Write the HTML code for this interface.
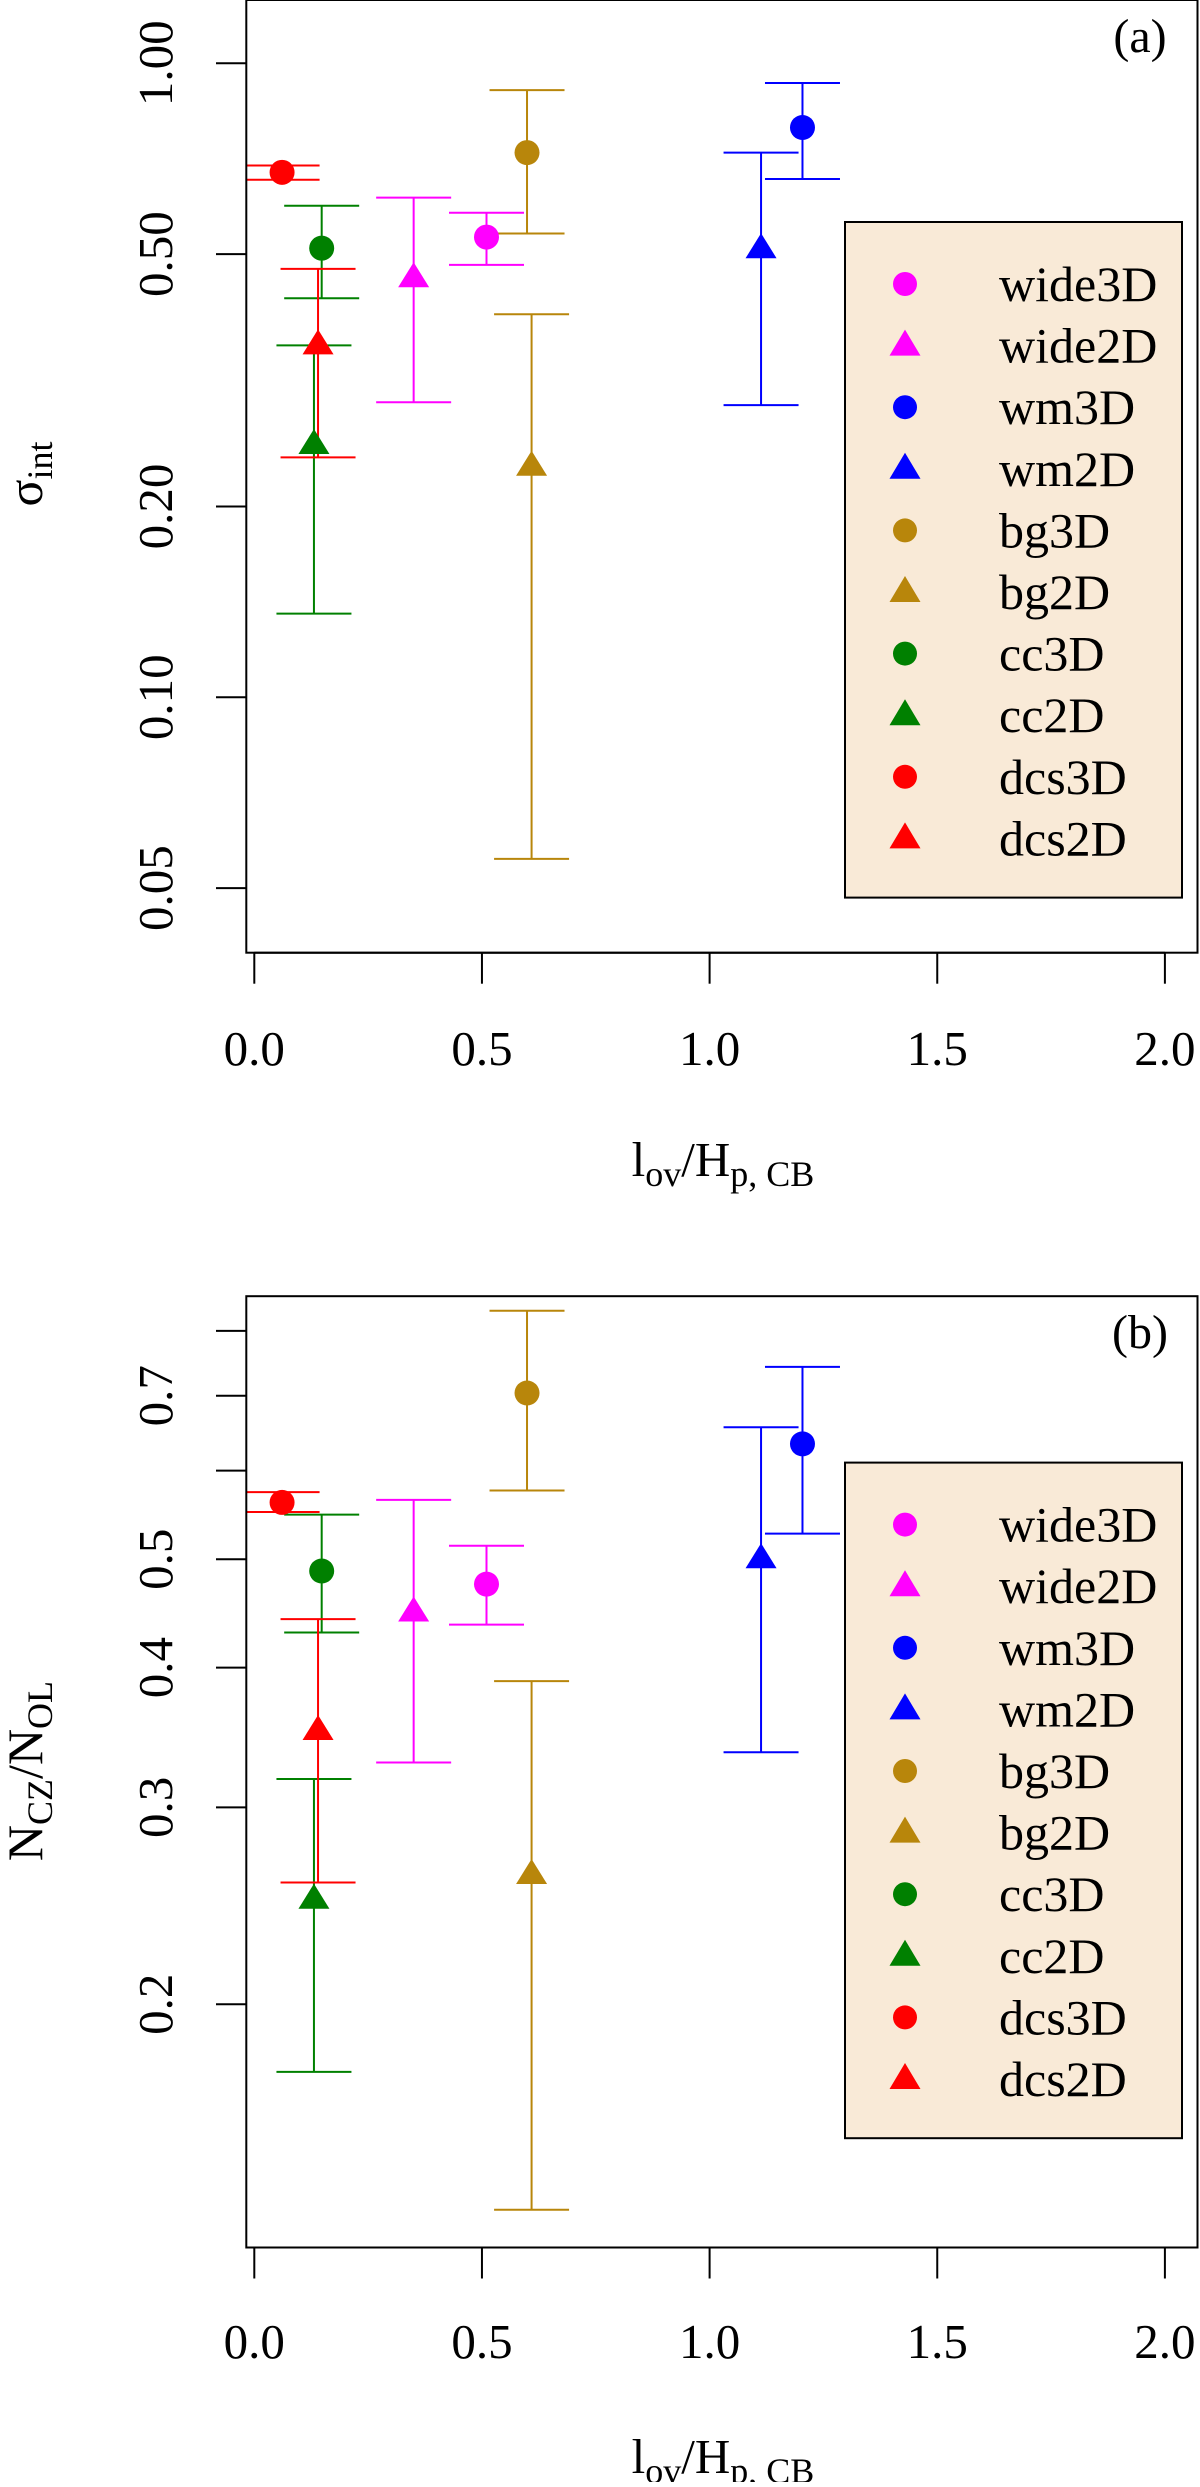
<!DOCTYPE html>
<html><head><meta charset="utf-8"><style>
html,body{margin:0;padding:0;background:#fff;}
svg, svg text, svg tspan{font-family:"Liberation Serif","Times New Roman",Times,serif !important;}
</style></head><body>
<svg id="chart" width="1200" height="2482" viewBox="0 0 1200 2482" xmlns="http://www.w3.org/2000/svg" font-family="Liberation Serif, Times New Roman, serif"></svg>
<script>
const series = ["wide3D","wide2D","wm3D","wm2D","bg3D","bg2D","cc3D","cc2D","dcs3D","dcs2D"];
const colors = ["#ff00ff","#ff00ff","#0000ff","#0000ff","#b8860b","#b8860b","#008000","#008000","#ff0000","#ff0000"];
const shapes = ["circle","triangle","circle","triangle","circle","triangle","circle","triangle","circle","triangle"];
const xVals = [0.510,0.350,1.204,1.113,0.599,0.609,0.148,0.131,0.061,0.140];
// panel a: sigma_int
const aVals = [0.532,0.458,0.792,0.509,0.723,0.231,0.511,0.250,0.673,0.359];
const aUp   = [0.581,0.614,0.931,0.723,0.907,0.402,0.596,0.359,0.690,0.474];
const aLow  = [0.481,0.292,0.657,0.289,0.539,0.0556,0.426,0.1355,0.655,0.239];
// panel b: N_CZ/N_OL
const bVals = [0.475,0.448,0.634,0.500,0.704,0.261,0.488,0.248,0.562,0.351];
const bUp   = [0.514,0.565,0.743,0.656,0.834,0.389,0.548,0.318,0.574,0.442];
const bLow  = [0.437,0.329,0.527,0.336,0.576,0.131,0.430,0.174,0.551,0.257];
const xTicks = [0,0.5,1,1.5,2];
const xTickLabels = ["0.0","0.5","1.0","1.5","2.0"];
const aTicks = [1.0,0.5,0.2,0.1,0.05];
const aTickLabels = ["1.00","0.50","0.20","0.10","0.05"];
const bTicks = [0.2,0.3,0.4,0.5,0.6,0.7,0.8];
const bTickLabels = ["0.2","0.3","0.4","0.5","","0.7",""];

const NS="http://www.w3.org/2000/svg";
const svg=document.getElementById('chart');
const FF='Liberation Serif, Times New Roman, serif';
function mk(tag,attrs,parent){const e=document.createElementNS(NS,tag);for(const k in attrs)e.setAttribute(k,attrs[k]);if(tag==='text')e.setAttribute('font-family',FF);(parent||svg).appendChild(e);return e;}
const X0=254.3, XS=455.3, L=246.3, R=1197.5;
function xs(v){return X0+v*XS;}

function panel(p){
  const g=mk('g',{});
  
  
  const ys=v=>p.yRef - Math.log10(v/p.vRef)*p.dec;
  for(let i=0;i<series.length;i++){
    const x=xs(xVals[i]);
    const eb=mk('g',{stroke:colors[i],'stroke-width':2,fill:'none'},g);
    
    
    const yu=ys(p.up[i]), yl=ys(p.low[i]);
    mk('line',{x1:x,y1:yu,x2:x,y2:yl},eb);
    mk('line',{x1:Math.max(L,x-37.5),y1:yu,x2:x+37.5,y2:yu},eb);
    mk('line',{x1:Math.max(L,x-37.5),y1:yl,x2:x+37.5,y2:yl},eb);
  }
  for(let i=0;i<series.length;i++){
    const x=xs(xVals[i]), y=ys(p.vals[i]);
    let m;
    if(shapes[i]==='circle') m=mk('circle',{cx:x,cy:y,r:12.5,fill:colors[i]},g);
    else m=mk('polygon',{points:`${x},${y-16} ${x-15.5},${y+9} ${x+15.5},${y+9}`,fill:colors[i]},g);
    
    
  }
  const fr=mk('rect',{x:L,y:p.top,width:R-L,height:p.bot-p.top,fill:'none',stroke:'#000','stroke-width':2},g);
  
  
  const xa=mk('g',{},g);
  
  
  mk('line',{x1:xs(0),y1:p.bot,x2:xs(2),y2:p.bot,stroke:'#000','stroke-width':2},xa);
  xTicks.forEach((t,i)=>{
    mk('line',{x1:xs(t),y1:p.bot,x2:xs(t),y2:p.bot+31,stroke:'#000','stroke-width':2},xa);
    const tx=mk('text',{x:xs(t),y:p.xlab+17,'font-size':49,'text-anchor':'middle'},xa);
    tx.textContent=xTickLabels[i];
    
    
  });
  const xt=mk('text',{x:723,y:p.xtitle+14,'font-size':49,'text-anchor':'middle'},g);
  xt.innerHTML='l<tspan font-size="36" dy="10">ov</tspan><tspan dy="-10">/H</tspan><tspan font-size="36" dy="10">p, CB</tspan>';
  
  
  const ya=mk('g',{},g);
  
  
  p.ticks.forEach((t,i)=>{
    const y=ys(t);
    mk('line',{x1:216,y1:y,x2:L,y2:y,stroke:'#000','stroke-width':2},ya);
    if(p.labels[i]){
      const tx=mk('text',{x:0,y:0,'font-size':49,'text-anchor':'middle',transform:`translate(172,${y}) rotate(-90)`},ya);
      tx.textContent=p.labels[i];
      
      
    }
  });
  const yt=mk('text',{x:0,y:0,'font-size':50,'text-anchor':'middle',transform:`translate(42,${p.ytitleY}) rotate(-90)`},g);
  yt.innerHTML=p.ytitle;
  
  
  const pl=mk('text',{x:1140,y:p.top+52,'font-size':48,'text-anchor':'middle'},g);
  pl.textContent='('+p.id+')';
  
  
  const lg=mk('g',{},g);
  
  
  mk('rect',{x:845,y:p.legTop,width:337,height:675.6,fill:'#f9ead7',stroke:'#000','stroke-width':2},lg);
  series.forEach((s,i)=>{
    const y=p.legTop+62+i*61.6;
    const en=mk('g',{},lg);
    
    
    if(shapes[i]==='circle') mk('circle',{cx:905,cy:y,r:12,fill:colors[i]},en);
    else mk('polygon',{points:`905,${y-16} 889.5,${y+10} 920.5,${y+10}`,fill:colors[i]},en);
    const tx=mk('text',{x:999,y:y+17,'font-size':50},en);
    tx.textContent=s;
  });
}
panel({id:'a',top:0,bot:952.7,yRef:63.3,vRef:1.0,dec:634,vals:aVals,up:aUp,low:aLow,
  ticks:aTicks,labels:aTickLabels,xlab:1048,xtitle:1162,ytitleY:474,legTop:222,
  ytitle:'σ<tspan font-size="36" dy="10">int</tspan>'});
panel({id:'b',top:1296.2,bot:2247.5,yRef:1559.2,vRef:0.5,dec:1118.4,vals:bVals,up:bUp,low:bLow,
  ticks:bTicks,labels:bTickLabels,xlab:2341,xtitle:2459,ytitleY:1771,legTop:1462.6,
  ytitle:'N<tspan font-size="36" dy="10">CZ</tspan><tspan dy="-10">/N</tspan><tspan font-size="36" dy="10">OL</tspan>'});
</script>
</body></html>
